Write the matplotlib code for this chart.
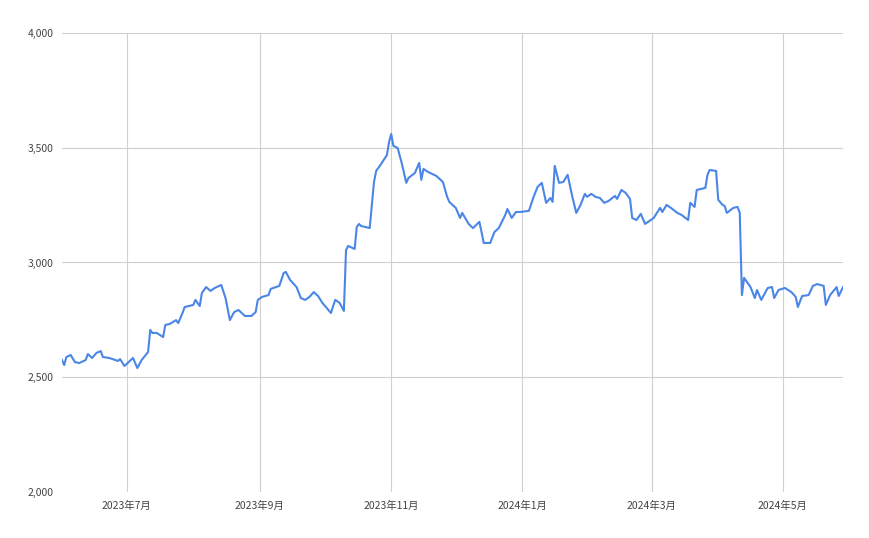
import numpy as np
import pandas as pd
import matplotlib
matplotlib.use("Agg")
import matplotlib.pyplot as plt
from matplotlib.ticker import FuncFormatter

plt.rcParams['font.family'] = ['Noto Sans CJK JP', 'DejaVu Sans']

# days since 2023-06-01 and closing values
start = pd.Timestamp('2023-06-01')
days = [0, 1, 2, 4, 6, 8, 11, 12, 14, 16, 18, 19, 22, 26, 27, 29, 33, 35, 37, 40,
        41, 42, 44, 47, 48, 50, 53, 54, 56, 57, 61, 62, 64, 65, 67, 69, 71, 74, 76, 78,
        80, 82, 85, 88, 90, 91, 93, 96, 97, 101, 103, 104, 106, 109, 111, 113, 115, 117, 119, 121,
        123, 125, 126, 127, 129, 131, 132, 133, 136, 137, 138, 139, 143, 145, 146, 148, 151, 152, 153, 154,
        156, 158, 160, 161, 164, 166, 167, 168, 170, 174, 177, 179, 180, 183, 185, 186, 189, 191, 194, 196,
        199, 201, 203, 206, 207, 209, 211, 213, 217, 219, 221, 223, 225, 227, 228, 229, 231, 233, 235, 237,
        239, 241, 243, 244, 246, 248, 250, 252, 254, 257, 258, 260, 262, 264, 265, 267, 269, 271, 273, 275,
        278, 279, 281, 283, 286, 288, 291, 292, 294, 295, 299, 300, 301, 304, 305, 307, 308, 309, 312, 314,
        315, 316, 317, 320, 322, 323, 325, 328, 330, 331, 333, 336, 339, 341, 342, 344, 347, 349, 351, 354,
        355, 357, 360, 361, 363]
values = [2575, 2553, 2588, 2597, 2566, 2562, 2575, 2601, 2584, 2606, 2614, 2588, 2584, 2571, 2579, 2549, 2584, 2540, 2575, 2610,
          2706, 2693, 2693, 2675, 2728, 2732, 2749, 2736, 2780, 2806, 2815, 2837, 2810, 2867, 2893, 2876, 2889, 2902, 2845, 2749,
          2784, 2793, 2767, 2767, 2784, 2837, 2850, 2858, 2885, 2898, 2954, 2959, 2924, 2893, 2845, 2837, 2850, 2871, 2854, 2824,
          2802, 2780, 2810, 2837, 2824, 2789, 3054, 3072, 3059, 3155, 3168, 3159, 3150, 3351, 3399, 3425, 3468, 3525, 3560, 3508,
          3499, 3429, 3347, 3368, 3390, 3434, 3360, 3408, 3395, 3377, 3351, 3286, 3264, 3238, 3194, 3216, 3168, 3150, 3177, 3085,
          3085, 3133, 3150, 3207, 3233, 3194, 3220, 3220, 3225, 3281, 3329, 3347, 3260, 3281, 3264, 3421, 3347, 3351, 3382, 3294,
          3216, 3251, 3299, 3286, 3299, 3286, 3281, 3260, 3268, 3290, 3277, 3316, 3303, 3277, 3194, 3185, 3212, 3168, 3181, 3194,
          3238, 3220, 3251, 3238, 3216, 3207, 3185, 3260, 3242, 3316, 3325, 3382, 3403, 3399, 3273, 3251, 3246, 3216, 3238, 3242,
          3216, 2858, 2933, 2893, 2845, 2880, 2837, 2889, 2893, 2845, 2880, 2889, 2871, 2850, 2806, 2854, 2858, 2898, 2906, 2898,
          2815, 2858, 2893, 2854, 2893]
tick_dates = ['2023-07-01', '2023-09-01', '2023-11-01', '2024-01-01', '2024-03-01', '2024-05-01']
tick_labels = ['2023年7月', '2023年9月', '2023年11月', '2024年1月', '2024年3月', '2024年5月']

dates = start + pd.to_timedelta(days, unit='D')

fig = plt.figure(figsize=(8.7, 5.38), dpi=100)
ax = fig.add_axes([0.0713, 0.0855, 0.8977, 0.8532])
ax.plot(dates, values, color='#4a86e8', lw=1.5, zorder=3)

ax.set_xlim(start, start + pd.Timedelta(days=363))
ax.set_ylim(2000, 4000)
ax.set_yticks(np.arange(2000, 4001, 500))
ax.yaxis.set_major_formatter(FuncFormatter(lambda v, p: f'{int(v):,}'))
ax.set_xticks(pd.to_datetime(tick_dates))
ax.set_xticklabels(tick_labels)
ax.grid(True, color='#d0d0d0', lw=0.8)
for s in ax.spines.values():
    s.set_visible(False)
ax.tick_params(length=0, labelsize=7.5, labelcolor='#444444', pad=6)

fig.savefig('out.png', dpi=100)
